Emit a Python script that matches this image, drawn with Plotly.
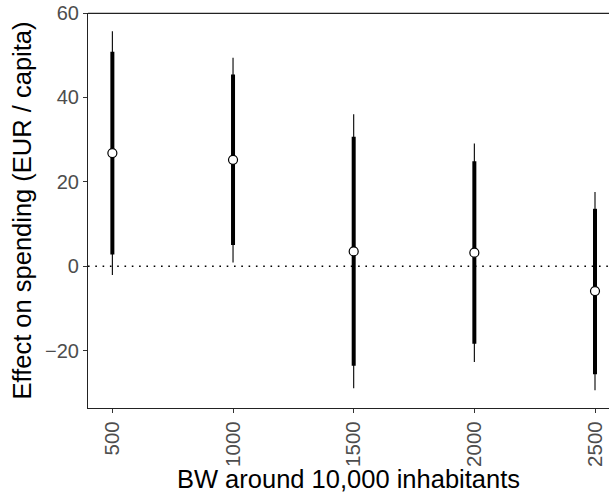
import plotly.graph_objects as go

bw = [500, 1000, 1500, 2000, 2500]
estimate = [26.8, 25.2, 3.5, 3.2, -5.9]
ci90_hi = [50.8, 45.4, 30.7, 24.9, 13.6]
ci90_lo = [2.8, 5.0, -23.6, -18.4, -25.6]
ci95_hi = [55.7, 49.4, 36.0, 29.1, 17.6]
ci95_lo = [-2.1, 0.9, -28.9, -22.7, -29.4]

x_ticks = [500, 1000, 1500, 2000, 2500]
y_ticks = [-20, 0, 20, 40, 60]

font_family = "Liberation Sans, Arial, sans-serif"

fig = go.Figure()

# thin (outer) interval
fig.add_trace(go.Scatter(
    x=bw, y=estimate, mode="markers",
    marker=dict(size=1, color="rgba(0,0,0,0)"),
    error_y=dict(type="data", symmetric=False,
                 array=[h - e for h, e in zip(ci95_hi, estimate)],
                 arrayminus=[e - l for e, l in zip(estimate, ci95_lo)],
                 width=0, thickness=1.1, color="black"),
    showlegend=False, hoverinfo="skip"))

# thick (inner) interval
fig.add_trace(go.Scatter(
    x=bw, y=estimate, mode="markers",
    marker=dict(size=1, color="rgba(0,0,0,0)"),
    error_y=dict(type="data", symmetric=False,
                 array=[h - e for h, e in zip(ci90_hi, estimate)],
                 arrayminus=[e - l for e, l in zip(estimate, ci90_lo)],
                 width=0, thickness=4, color="black"),
    showlegend=False, hoverinfo="skip"))

# point estimates
fig.add_trace(go.Scatter(
    x=bw, y=estimate, mode="markers",
    marker=dict(size=9, color="white", line=dict(color="black", width=1.2)),
    showlegend=False))

# zero reference line
fig.add_shape(type="line", xref="paper", yref="y", x0=0, x1=1, y0=0, y1=0,
              line=dict(color="black", width=1.6, dash="1.6px,5.7px"), layer="below")
# top border
fig.add_shape(type="line", xref="paper", yref="paper", x0=0, x1=1, y0=0.999, y1=0.999,
              line=dict(color="#222222", width=1.2))

fig.update_layout(
    width=609, height=493,
    margin=dict(l=88, r=0, t=13, b=85),
    plot_bgcolor="white", paper_bgcolor="white",
    font=dict(family=font_family, color="black"),
    xaxis=dict(
        range=[399, 2558], tickvals=x_ticks, ticktext=[str(v) for v in x_ticks],
        tickangle=-90, showgrid=False, zeroline=False,
        showline=True, linecolor="#222222", linewidth=1.2,
        ticks="outside", ticklen=4, tickcolor="#333333", tickwidth=1.1,
        tickfont=dict(size=20.5, color="#4D4D4D", family=font_family),
        title=dict(text="BW around 10,000 inhabitants", standoff=4,
                   font=dict(size=25.5, color="black", family=font_family)),
    ),
    yaxis=dict(
        range=[-33.6, 60], tickvals=y_ticks,
        ticktext=["\u221220", "0", "20", "40", "60"],
        showgrid=False, zeroline=False,
        showline=True, linecolor="#222222", linewidth=1.2,
        ticks="outside", ticklen=4, tickcolor="#333333", tickwidth=1.1,
        tickfont=dict(size=20, color="#4D4D4D", family=font_family),
        title=dict(text="Effect on spending (EUR / capita)", standoff=6,
                   font=dict(size=25.5, color="black", family=font_family)),
    ),
)

fig.write_html("out.html")
